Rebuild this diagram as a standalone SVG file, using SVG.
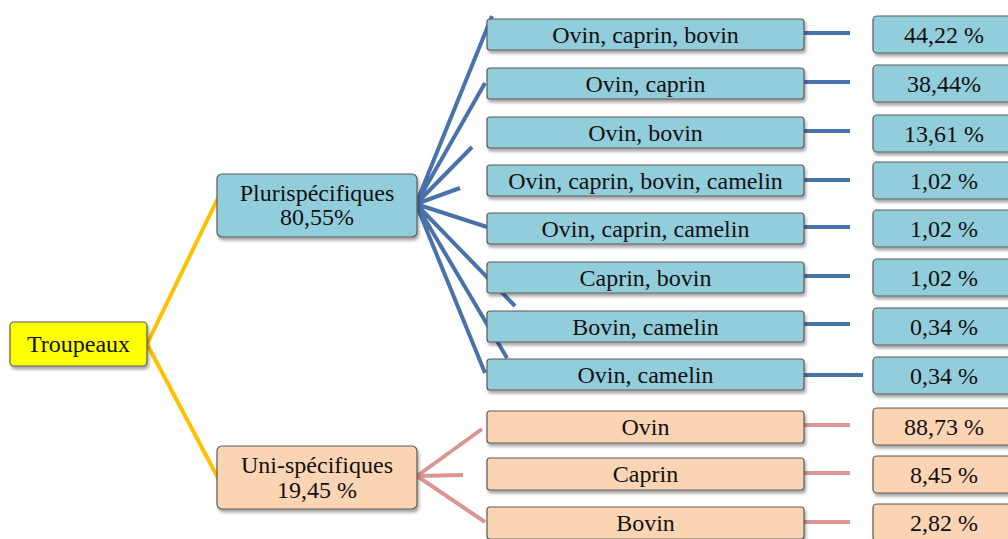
<svg xmlns="http://www.w3.org/2000/svg" width="1008" height="539" viewBox="0 0 1008 539">
<defs>
<filter id="sh" x="-10%" y="-30%" width="130%" height="170%">
<feDropShadow dx="1.5" dy="3" stdDeviation="1.8" flood-color="#000" flood-opacity="0.35"/>
</filter>
</defs>
<style>
.box{stroke:#5a5a5a;stroke-width:1.2;filter:url(#sh)}
.blue{fill:#92CDDC}
.peach{fill:#FBD4B4}
.yel{fill:#FFFF00}
text{font-family:"Liberation Serif","Times New Roman",serif;font-size:24px;fill:#111;text-anchor:middle}
.lb{stroke:#4A72AA;stroke-width:4;fill:none;stroke-linecap:butt}
.lp{stroke:#D99694;stroke-width:4;fill:none}
.ly{stroke:#FFC000;stroke-width:4;fill:none}
</style>
<rect width="1008" height="539" fill="#fff"/>
<g id="connectors">
<path class="ly" d="M147,344 L218,198 M147,344 L218,478"/>
<path class="lb" d="M416,204 L492,16 M416,204 L485,83 M416,204 L472,147 M416,204 L460,188 M416,204 L487,227 M416,204 L515,306 M416,204 L507,358 M416,204 L485,373"/>
<path class="lp" d="M417,476 L482,429 M417,476 L463,475 M417,476 L485,522"/>
<path class="lb" d="M800,33 L850,33 M800,82 L850,82 M800,131 L850,131 M800,180 L850,180 M800,227 L850,227 M800,276 L850,276 M800,324 L850,324 M800,375 L863,375"/>
<path class="lp" d="M800,425 L850,425 M800,473 L850,473 M800,522 L850,522"/>
</g>
<g id="troupeaux"><rect class="box yel" x="10" y="322" width="137" height="44" rx="4"/><text x="78.5" y="352">Troupeaux</text></g>
<g id="pluri"><rect class="box blue" x="217" y="174" width="200" height="63" rx="5"/><text x="317" y="201">Plurispécifiques</text><text x="317" y="225">80,55%</text></g>
<g id="uni"><rect class="box peach" x="217" y="446" width="200" height="63" rx="5"/><text x="317" y="473">Uni-spécifiques</text><text x="317" y="498">19,45 %</text></g>
<g id="c1"><rect class="box blue" x="487" y="19" width="317" height="31" rx="3"/><text x="645.5" y="43">Ovin, caprin, bovin</text></g>
<g id="c2"><rect class="box blue" x="487" y="68" width="317" height="31" rx="3"/><text x="645.5" y="92">Ovin, caprin</text></g>
<g id="c3"><rect class="box blue" x="487" y="117" width="317" height="31" rx="3"/><text x="645.5" y="141">Ovin, bovin</text></g>
<g id="c4"><rect class="box blue" x="487" y="165" width="317" height="31" rx="3"/><text x="645.5" y="189">Ovin, caprin, bovin, camelin</text></g>
<g id="c5"><rect class="box blue" x="487" y="213" width="317" height="31" rx="3"/><text x="645.5" y="237">Ovin, caprin, camelin</text></g>
<g id="c6"><rect class="box blue" x="487" y="262" width="317" height="31" rx="3"/><text x="645.5" y="286">Caprin, bovin</text></g>
<g id="c7"><rect class="box blue" x="487" y="311" width="317" height="31" rx="3"/><text x="645.5" y="335">Bovin, camelin</text></g>
<g id="c8"><rect class="box blue" x="487" y="359" width="317" height="31" rx="3"/><text x="645.5" y="383">Ovin, camelin</text></g>
<g id="u1"><rect class="box peach" x="487" y="411" width="317" height="32" rx="3"/><text x="645.5" y="435">Ovin</text></g>
<g id="u2"><rect class="box peach" x="487" y="458" width="317" height="32" rx="3"/><text x="645.5" y="482">Caprin</text></g>
<g id="u3"><rect class="box peach" x="487" y="507" width="317" height="32" rx="3"/><text x="645.5" y="531">Bovin</text></g>
<g id="p1"><rect class="box blue" x="873" y="16" width="145" height="37" rx="4"/><text x="944" y="43">44,22 %</text></g>
<g id="p2"><rect class="box blue" x="873" y="65" width="145" height="37" rx="4"/><text x="944" y="92">38,44%</text></g>
<g id="p3"><rect class="box blue" x="873" y="115" width="145" height="37" rx="4"/><text x="944" y="142">13,61 %</text></g>
<g id="p4"><rect class="box blue" x="873" y="162" width="145" height="37" rx="4"/><text x="944" y="189">1,02 %</text></g>
<g id="p5"><rect class="box blue" x="873" y="210" width="145" height="37" rx="4"/><text x="944" y="237">1,02 %</text></g>
<g id="p6"><rect class="box blue" x="873" y="259" width="145" height="37" rx="4"/><text x="944" y="286">1,02 %</text></g>
<g id="p7"><rect class="box blue" x="873" y="308" width="145" height="37" rx="4"/><text x="944" y="335">0,34 %</text></g>
<g id="p8"><rect class="box blue" x="873" y="357" width="145" height="37" rx="4"/><text x="944" y="384">0,34 %</text></g>
<g id="q1"><rect class="box peach" x="873" y="408" width="145" height="37" rx="4"/><text x="944" y="435">88,73 %</text></g>
<g id="q2"><rect class="box peach" x="873" y="456" width="145" height="37" rx="4"/><text x="944" y="483">8,45 %</text></g>
<g id="q3"><rect class="box peach" x="873" y="504" width="145" height="37" rx="4"/><text x="944" y="531">2,82 %</text></g>
</svg>
